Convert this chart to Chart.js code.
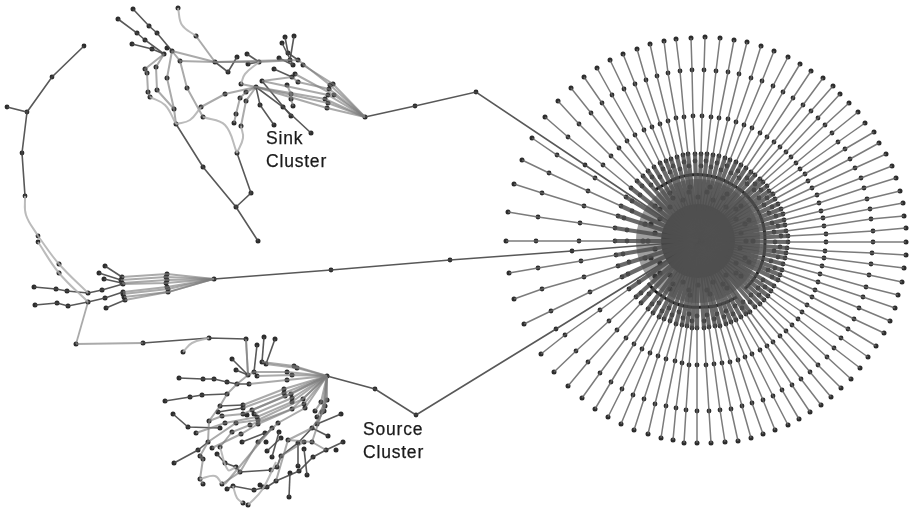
<!DOCTYPE html>
<html>
<head>
<meta charset="utf-8">
<script src="https://cdn.jsdelivr.net/npm/chart.js@4"></script>
<style>
  html, body { margin: 0; padding: 0; background: #fff; }
  #wrap { position: relative; width: 912px; height: 510px; overflow: hidden; }
  canvas { filter: blur(0.45px); }
  .note { position: absolute; font: 17.5px/23px "Liberation Sans", sans-serif; letter-spacing: 0.8px; color: #1a1a1a; -webkit-text-stroke: 0.25px #1a1a1a; }
</style>
</head>
<body>
<div id="wrap">
  <canvas id="graph" width="912" height="510"></canvas>
  <div class="note" style="left:266px;top:127px">Sink<br>Cluster</div>
  <div class="note" style="left:363px;top:418px">Source<br>Cluster</div>
</div>
<script>
// node positions, clockwise round the star
const hubCentre = [698, 241];
const outerRing = [[508,212],[514,184],[522,160],[532,138],[545,117],[558,101],[571,88],[584,77],[597,68],[610,60],[623,54],[637,49],[650,44],[664,41],[676,39],[691,38],[705,37],[720,38],[734,40],[747,42],[761,46],[774,51],[788,57],[800,64],[811,71],[823,78],[833,86],[840,94],[849,103],[858,112],[865,123],[874,132],[879,143],[886,154],[892,166],[896,178],[900,191],[903,203],[904,216],[906,228],[906,242],[906,255],[904,268],[902,282],[898,295],[895,308],[890,321],[884,333],[876,346],[868,357],[860,368],[851,379],[841,388],[831,397],[821,405],[810,412],[799,419],[788,425],[775,430],[763,434],[751,438],[738,441],[725,442],[711,443],[697,443],[684,443],[673,440],[661,438],[648,434],[634,430],[621,424],[608,417],[595,409],[582,398],[568,386],[554,372],[541,354],[524,324],[514,299],[509,273],[506,241]];
const secondRing = [[538,217],[542,193],[549,173],[557,155],[568,137],[579,124],[591,113],[602,103],[612,95],[624,89],[635,84],[646,80],[657,76],[668,73],[680,71],[692,70],[704,70],[716,71],[728,72],[739,74],[751,78],[762,81],[773,86],[783,92],[793,98],[803,105],[811,111],[818,118],[825,125],[832,133],[838,142],[845,149],[850,159],[855,168],[861,178],[864,188],[867,199],[870,209],[871,219],[873,231],[873,242],[872,253],[871,264],[869,275],[866,287],[863,297],[859,308],[854,319],[848,329],[841,338],[834,348],[827,357],[818,365],[810,372],[801,379],[792,385],[782,390],[773,396],[763,400],[752,403],[742,406],[731,409],[720,410],[709,411],[697,411],[686,410],[676,408],[666,406],[655,404],[644,399],[633,395],[622,389],[611,382],[600,373],[588,362],[576,351],[565,335],[551,311],[542,289],[538,268],[536,241]];
const thirdRing = [[580,223],[584,206],[588,191],[595,178],[603,165],[611,156],[619,148],[627,141],[635,135],[644,130],[652,127],[660,124],[668,121],[676,118],[684,117],[693,116],[702,116],[711,117],[719,118],[728,119],[736,122],[744,125],[752,128],[760,133],[767,137],[774,142],[780,147],[786,152],[791,157],[796,163],[800,169],[805,174],[808,181],[812,188],[817,195],[819,203],[821,211],[823,218],[824,226],[826,234],[826,242],[825,251],[824,258],[822,266],[820,274],[818,282],[815,290],[812,297],[807,305],[802,312],[798,319],[792,325],[786,331],[780,336],[773,342],[767,346],[760,350],[752,354],[745,357],[738,360],[730,362],[722,363],[714,364],[706,365],[697,365],[689,365],[682,363],[675,361],[666,359],[658,356],[650,353],[642,349],[634,344],[626,338],[617,330],[609,321],[600,310],[590,292],[584,277],[581,261],[579,241]];
const fourthRing = [[615,228],[618,216],[621,206],[626,197],[631,188],[637,181],[643,176],[648,171],[654,167],[660,163],[666,161],[671,159],[677,157],[683,155],[688,154],[695,154],[701,154],[707,154],[713,155],[719,156],[725,158],[730,160],[736,162],[741,165],[746,168],[751,172],[755,175],[760,179],[763,182],[767,186],[769,191],[773,194],[775,199],[778,204],[781,209],[783,214],[784,220],[785,225],[786,231],[788,236],[788,242],[787,248],[786,253],[785,258],[783,264],[782,270],[780,275],[778,280],[774,286],[771,291],[768,296],[764,300],[760,304],[755,307],[750,312],[746,314],[741,317],[736,320],[731,322],[726,324],[720,326],[715,326],[709,327],[704,328],[697,328],[692,328],[687,326],[682,325],[676,324],[670,321],[664,319],[659,317],[653,313],[648,309],[641,303],[636,297],[629,289],[622,277],[618,266],[616,255],[615,241]];
const bandRowA = [[624,218],[632,201],[642,186],[652,177],[663,169],[673,166],[684,162],[695,161],[706,161],[717,163],[727,166],[738,171],[747,178],[755,184],[761,190],[767,198],[772,207],[776,216],[778,226],[781,236],[780,247],[778,257],[775,268],[772,277],[765,287],[759,295],[750,302],[742,308],[733,314],[724,317],[714,319],[704,321],[692,321],[683,318],[672,315],[662,311],[652,304],[641,293],[628,274],[623,254]];
const bandRowB = [[627,230],[632,211],[640,195],[651,185],[660,177],[670,172],[680,169],[689,166],[701,166],[711,167],[721,170],[731,173],[739,178],[747,184],[754,190],[759,198],[764,205],[769,213],[772,223],[774,232],[775,242],[774,251],[771,261],[768,270],[763,280],[758,288],[751,295],[743,302],[735,306],[726,311],[717,314],[707,315],[697,316],[689,314],[679,312],[669,308],[659,303],[649,294],[639,282],[629,262],[627,241]];
const innerRing = [[746,241],[740,248],[745,258],[736,263],[736,273],[726,275],[723,284],[713,282],[707,290],[698,285],[689,290],[683,282],[673,284],[670,275],[660,273],[660,263],[651,258],[655,249],[648,241],[655,233],[651,224],[660,219],[660,209],[670,207],[673,198],[683,200],[689,192],[698,197],[707,192],[713,200],[723,198],[726,207],[736,209],[736,219],[745,224],[741,233]];
const innerRingOuterRow = [[753,241],[749,262],[741,276],[727,288],[710,294],[690,295],[670,289],[655,276],[645,258],[643,241],[645,224],[655,206],[670,193],[690,187],[710,187],[727,194],[741,206],[749,220]];
const ringArcs = [
  [[655,190],[665,184],[677,178],[690,175],[704,175],[718,178],[731,184],[743,192],[753,203],[760,215],[764,228],[765,241],[764,255],[760,268],[753,280],[745,289]],
  [[737,297],[727,302],[715,306],[703,307],[690,307],[677,304],[665,298],[655,291],[648,283]],
];

// long links between the clusters and the star
const trunkPaths = [
  [[365,117],[415,106],[476,92],[585,165],[698,241]],
  [[214,279],[331,270],[450,260],[572,251],[698,241]],
  [[327,376],[375,389],[416,415],[556,329],[698,241]],
  [[84,46],[52,77],[27,112],[7,107]],
  [[27,112],[22,153],[25,196]],
];
const trunkNodes = [[415,106],[476,92],[585,165],[331,270],[450,260],[572,251],[375,389],[416,415],[556,329],[84,46],[52,77],[27,112],[7,107],[22,153],[25,196],[38,236],[38,242]];

const sinkNodes = [[133,9],[149,26],[157,33],[167,48],[172,51],[118,19],[137,33],[145,40],[164,54],[132,44],[152,49],[178,8],[196,36],[215,62],[180,61],[145,69],[147,73],[156,67],[167,78],[148,92],[150,97],[157,90],[174,109],[187,88],[176,124],[201,107],[203,117],[225,94],[228,72],[237,57],[247,54],[248,64],[259,62],[279,58],[274,69],[241,84],[246,92],[240,98],[246,101],[256,87],[262,81],[236,114],[234,123],[241,126],[237,153],[203,167],[251,193],[236,207],[258,241],[260,105],[274,125],[283,107],[291,116],[311,133],[287,85],[291,94],[291,99],[293,106],[285,37],[294,36],[282,43],[288,53],[290,60],[298,60],[303,65],[293,65],[295,74],[292,77],[298,82],[333,84],[330,85],[329,89],[334,95],[328,95],[325,99],[328,103],[327,108],[365,117]];
const sinkDark = [
  [[133,9],[149,26],[157,33],[172,51]],
  [[118,19],[137,33],[145,40],[164,54]],
  [[132,44],[152,49],[164,54]],
  [[176,124],[203,167],[236,207],[258,241]],
  [[237,153],[251,193],[236,207]],
  [[215,62],[228,72],[237,57]],
  [[256,87],[260,105],[274,125]],
  [[256,87],[283,107],[311,133]],
  [[262,81],[291,116]],
  [[285,37],[288,53],[298,60]],
  [[294,36],[290,60]],
  [[282,43],[293,65]],
  [[274,69],[292,77]],
  [[247,54],[259,62]],
  [[248,64],[259,62]],
  [[279,58],[293,65]],
];
const sinkMid = [
  [[365,117],[333,84],[303,65]],
  [[365,117],[330,85],[298,60]],
  [[365,117],[329,89],[298,82]],
  [[365,117],[334,95],[295,74]],
  [[365,117],[328,95],[262,81]],
  [[365,117],[325,99],[256,87]],
  [[365,117],[328,103],[256,87]],
  [[365,117],[327,108],[256,87]],
  [[298,60],[259,62],[215,62],[172,51]],
  [[290,60],[215,62],[180,61]],
  [[262,81],[292,77],[298,82]],
  [[256,87],[225,94],[201,107]],
  [[256,87],[241,84]],
  [[256,87],[246,92],[240,98],[236,114],[234,123]],
  [[256,87],[246,101],[241,126]],
  [[172,51],[180,61],[187,88],[203,117]],
  [[172,51],[167,78],[174,109],[176,124]],
  [[164,54],[145,69],[147,73],[148,92],[150,97]],
  [[164,54],[156,67],[157,90],[174,109]],
  [[196,36],[215,62]],
  [[287,85],[291,94],[291,99],[293,106]],
];
const sinkCurves = [
  [[178,8],[182,25],[196,36]],
  [[203,117],[225,125],[237,153]],
  [[150,97],[165,105],[176,124]],
  [[176,124],[190,120],[201,107]],
  [[259,62],[245,74],[241,84]],
  [[237,153],[243,138],[241,126]],
  [[25,196],[26,215],[38,236]],
  [[38,242],[59,273],[88,302]],
  [[38,236],[59,264],[88,293]],
];

const feederNodes = [[214,279],[167,274],[166,277],[167,280],[166,283],[167,287],[168,289],[168,292],[122,277],[121,280],[122,283],[123,284],[123,292],[123,294],[124,297],[125,300],[102,290],[105,298],[104,279],[99,273],[105,266],[106,308],[88,293],[88,302],[34,287],[56,289],[67,291],[35,305],[57,303],[68,306],[76,344],[59,264],[59,273],[143,343],[209,338],[246,339],[183,352]];
const feederDark = [
  [[105,266],[122,277]],
  [[99,273],[121,280]],
  [[104,279],[122,283]],
  [[106,308],[125,300]],
  [[34,287],[56,289],[67,291],[88,293]],
  [[35,305],[57,303],[68,306],[88,302]],
  [[88,293],[102,290],[123,284]],
  [[88,302],[105,298],[123,292]],
  [[143,343],[209,338],[246,339]],
];
const feederMid = [
  [[214,279],[167,274],[122,277]],
  [[214,279],[166,277],[121,280]],
  [[214,279],[167,280],[122,283]],
  [[214,279],[166,283],[123,284]],
  [[214,279],[167,287],[123,292]],
  [[214,279],[168,289],[123,294]],
  [[214,279],[168,292],[124,297]],
  [[214,279],[168,292],[125,300]],
  [[88,302],[76,344]],
  [[76,344],[143,343]],
  [[246,339],[248,375]],
];
const feederCurves = [[[183,352],[192,343],[209,338]]];

const sourceNodes = [[327,376],[264,337],[275,339],[257,345],[232,359],[236,370],[262,362],[266,364],[248,375],[254,372],[294,366],[297,368],[287,372],[292,375],[287,380],[257,376],[249,384],[237,384],[227,382],[214,379],[203,379],[179,378],[165,401],[190,397],[202,395],[227,394],[284,389],[284,393],[285,396],[291,394],[292,398],[292,402],[303,399],[304,404],[305,408],[321,402],[327,400],[325,406],[324,411],[322,412],[315,411],[317,417],[243,405],[243,408],[220,406],[218,412],[222,416],[243,414],[252,410],[254,414],[257,417],[258,420],[258,424],[247,415],[236,423],[225,423],[209,421],[173,414],[188,427],[196,433],[220,428],[232,432],[241,434],[242,442],[250,425],[292,409],[278,423],[272,428],[265,433],[258,442],[266,442],[267,451],[272,457],[279,432],[281,438],[288,440],[298,443],[304,442],[312,442],[312,428],[317,424],[341,414],[328,436],[343,442],[336,450],[326,450],[313,457],[304,449],[298,466],[281,456],[208,442],[198,450],[212,448],[220,447],[217,454],[174,463],[200,456],[203,459],[225,463],[236,467],[240,472],[200,479],[203,484],[222,484],[227,489],[233,486],[254,490],[260,485],[263,487],[267,487],[243,503],[248,505],[271,470],[277,467],[290,473],[299,471],[307,475],[276,481],[289,497]];
const sourceDark = [
  [[179,378],[203,379],[214,379],[227,382],[237,384],[249,384]],
  [[165,401],[190,397],[202,395],[227,394]],
  [[173,414],[188,427],[220,428]],
  [[174,463],[198,450],[208,442]],
  [[264,337],[262,362]],
  [[275,339],[266,364]],
  [[257,345],[254,372]],
  [[232,359],[248,375]],
  [[236,370],[248,375]],
  [[341,414],[317,424]],
  [[328,436],[312,428]],
  [[343,442],[326,450]],
  [[289,497],[290,473]],
  [[307,475],[304,449]],
  [[298,466],[298,443]],
  [[312,428],[298,443],[281,456],[277,467],[271,470],[240,472]],
  [[299,471],[276,481],[267,487],[254,490],[233,486]],
  [[326,450],[313,457],[299,471]],
  [[272,428],[258,442]],
  [[279,432],[272,457]],
  [[281,438],[267,451]],
  [[227,489],[233,486]],
  [[243,405],[220,406]],
  [[243,408],[218,412]],
  [[217,454],[225,463],[236,467],[240,472]],
  [[265,433],[242,442]],
];
const sourceMid = [
  [[327,376],[297,368],[266,364]],
  [[327,376],[294,366],[262,362]],
  [[327,376],[287,372],[254,372]],
  [[327,376],[292,375],[257,376]],
  [[327,376],[287,380],[249,384]],
  [[327,376],[284,389],[243,405]],
  [[327,376],[284,393],[243,408]],
  [[327,376],[285,396],[243,414]],
  [[327,376],[291,394],[252,410]],
  [[327,376],[292,398],[254,414]],
  [[327,376],[292,402],[257,417]],
  [[327,376],[303,399],[258,420]],
  [[327,376],[304,404],[258,424]],
  [[327,376],[305,408],[278,423],[258,442]],
  [[327,376],[292,409],[250,425]],
  [[327,376],[321,402],[315,411]],
  [[327,376],[327,400],[317,417]],
  [[327,376],[325,406],[317,424]],
  [[327,376],[324,411],[312,428]],
  [[327,376],[322,412],[312,442]],
  [[254,372],[248,375],[237,384],[227,394],[220,406],[209,421],[208,442]],
  [[243,414],[222,416],[209,421]],
  [[257,417],[225,423],[196,433]],
  [[258,420],[236,423],[208,442]],
  [[258,424],[241,434],[212,448]],
  [[250,425],[232,432],[220,447]],
  [[208,442],[200,456],[203,459],[200,479],[203,484]],
  [[258,442],[240,472],[222,484]],
  [[272,428],[225,484]],
  [[304,442],[281,456],[277,467]],
  [[312,428],[288,440],[276,481]],
  [[312,442],[326,450]],
  [[288,440],[312,442]],
  [[248,375],[246,340]],
];
const sourceCurves = [
  [[200,479],[215,476],[222,484]],
  [[233,486],[237,498],[243,503]],
  [[248,505],[262,490],[276,462]],
  [[220,447],[228,470],[236,467]],
];

const edgeDark = 'rgba(70,70,70,0.9)';
const edgeMid = 'rgba(125,125,125,0.65)';
const edgeLight = 'rgba(175,175,175,0.85)';
const nodeColor = '#2c2c2c';

const toXY = pts => pts.map(p => ({ x: p[0], y: p[1] }));

function edges(paths, color, width, tension) {
  return paths.map(path => ({
    data: toXY(path),
    showLine: true,
    borderColor: color,
    borderWidth: width,
    pointRadius: 0,
    tension: tension || 0,
  }));
}

function nodes(pts, radius, color) {
  return [{ data: toXY(pts), showLine: false, pointRadius: radius, borderWidth: 0, backgroundColor: color || nodeColor }];
}

// every spoke runs tip -> rings -> hub
const outerSpokes = outerRing.map((tip, i) => [tip, secondRing[i], thirdRing[i], fourthRing[i]]);
const innerSpokes = fourthRing.map(p => [p, hubCentre]);

const datasets = [
  ...nodes([hubCentre], 62, 'rgba(80,80,80,0.55)'),
  ...edges(innerSpokes, 'rgba(80,80,80,0.85)', 4.2),
  ...edges(outerSpokes, 'rgba(100,100,100,0.85)', 1.5),
  ...nodes([hubCentre], 37, '#3a3a3a'),
  ...edges(ringArcs, '#141414', 3, 0.4),
  ...edges(trunkPaths, edgeDark, 1.6),
  ...edges(sinkCurves, edgeLight, 2, 0.4),
  ...edges(sinkMid, edgeMid, 2),
  ...edges(sinkDark, edgeDark, 1.6),
  ...edges(feederCurves, edgeLight, 2, 0.4),
  ...edges(feederMid, edgeMid, 1.8),
  ...edges(feederDark, edgeDark, 1.6),
  ...edges(sourceCurves, edgeLight, 2, 0.4),
  ...edges(sourceMid, edgeMid, 2),
  ...edges(sourceDark, edgeDark, 1.6),
  ...nodes(outerRing, 2.5),
  ...nodes(secondRing, 2.4),
  ...nodes(thirdRing, 2.4),
  ...nodes(fourthRing, 2.4),
  ...nodes(bandRowA, 2.4),
  ...nodes(bandRowB, 2.4),
  ...nodes(innerRing, 2.6, '#151515'),
  ...nodes(innerRingOuterRow, 2.6, '#151515'),
  ...nodes([hubCentre], 1.8, '#111'),
  ...nodes(trunkNodes, 2.4),
  ...nodes(sinkNodes, 2.5),
  ...nodes(feederNodes, 2.5),
  ...nodes(sourceNodes, 2.5),
];

new Chart(document.getElementById('graph'), {
  type: 'scatter',
  data: { datasets },
  options: {
    responsive: false,
    animation: false,
    devicePixelRatio: 1,
    layout: { padding: 0, autoPadding: false },
    plugins: { legend: { display: false }, tooltip: { enabled: false } },
    scales: {
      x: { type: 'linear', min: 0, max: 912, display: false },
      y: { type: 'linear', min: 0, max: 510, reverse: true, display: false },
    },
  },
});
</script>
</body>
</html>
